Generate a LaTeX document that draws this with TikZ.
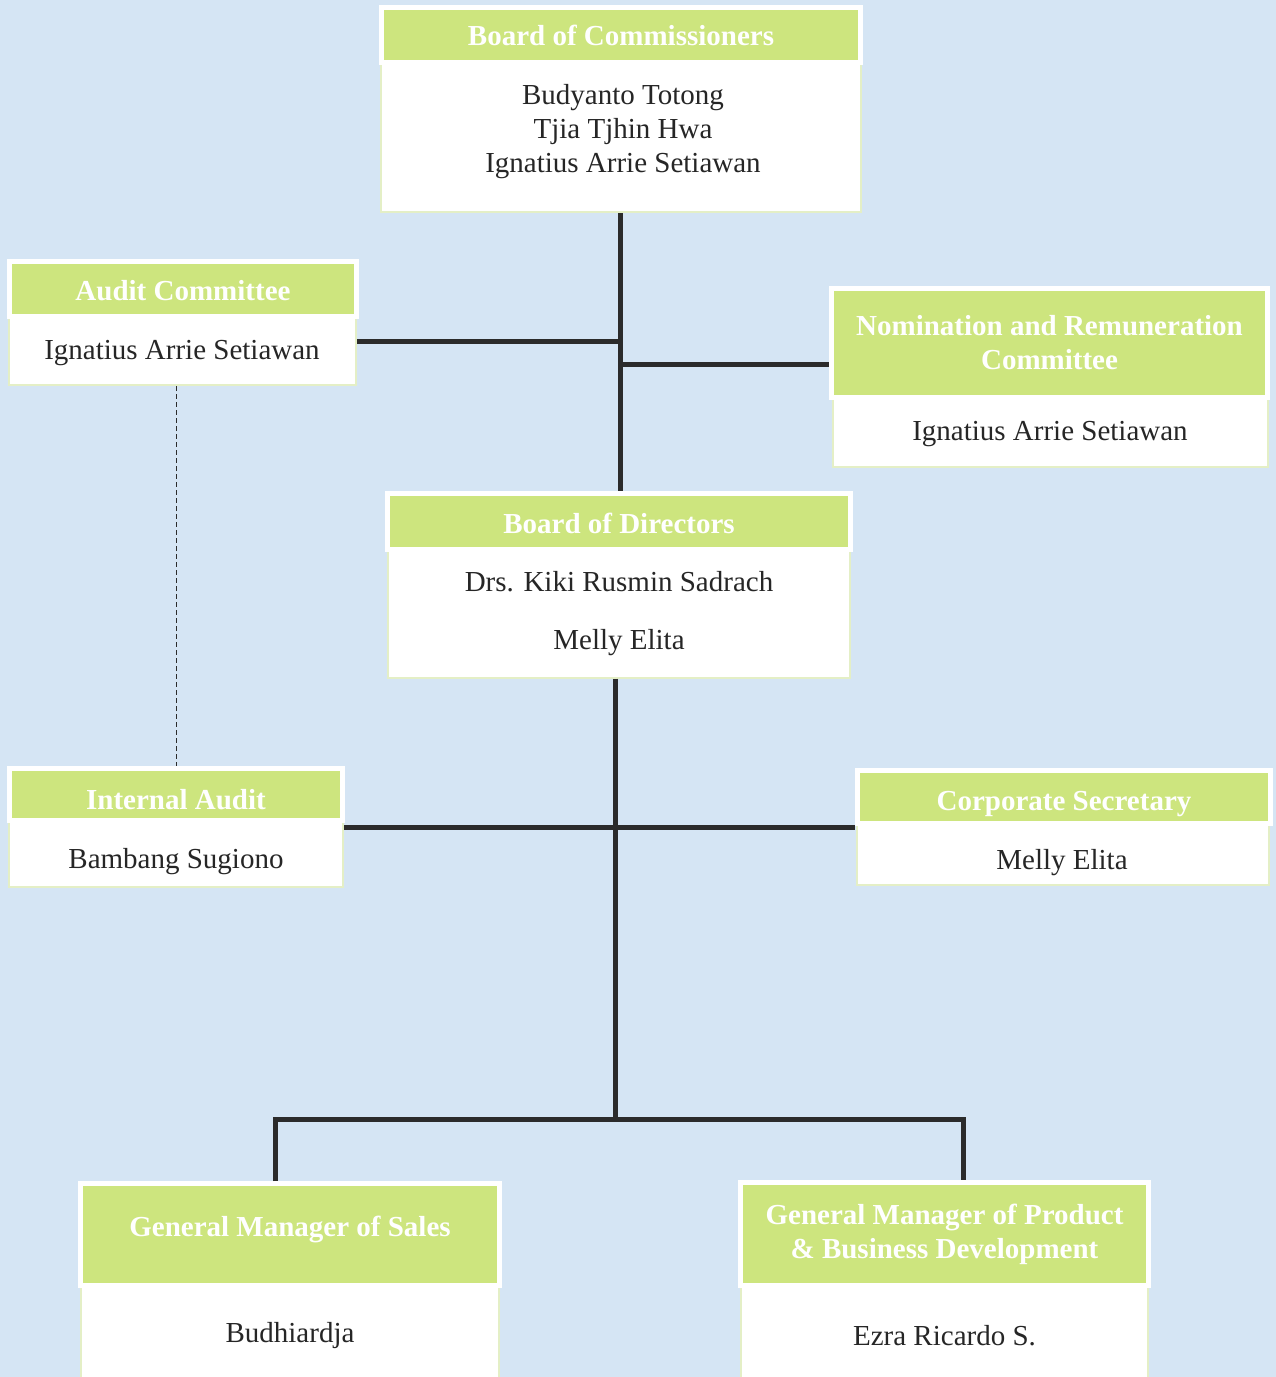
\documentclass[tikz,border=0pt]{standalone}
\usepackage{fontspec}
\setmainfont{Liberation Serif}
\usepackage{xcolor}
\usetikzlibrary{positioning}

\definecolor{bgblue}{HTML}{D5E5F4}
\definecolor{hdgreen}{HTML}{CDE57E}
\definecolor{rimgreen}{HTML}{E4EFC6}
\definecolor{linedark}{HTML}{2B2B2B}
\definecolor{namegray}{HTML}{262626}

\begin{document}
\begin{tikzpicture}[
  x=1pt, y=-1pt,
  font=\fontsize{29}{34}\selectfont,
  head/.style={
    draw=white,
    fill=hdgreen,
    line width=5pt,
    text=white,
    font=\fontsize{29}{34}\selectfont\bfseries,
    align=center,
    inner sep=0pt
  },
  onehead/.style={
    head,
    text height=27pt,
    text depth=6pt
  },
  body/.style={
    draw=rimgreen,
    fill=white,
    line width=2pt,
    inner sep=0pt
  },
  names/.style={
    text=namegray,
    align=center,
    inner sep=0pt
  },
  conn/.style={
    draw=linedark,
    line width=5pt
  },
  dashline/.style={
    draw=linedark,
    line width=1pt,
    dash pattern=on 5pt off 3pt
  }
]

% Canvas
\useasboundingbox (0,0) rectangle (1276,1377);
\clip (0,0) rectangle (1276,1377);
\fill[bgblue] (0,0) rectangle (1276,1377);

% Board of Commissioners
\node[body, minimum width=480pt, minimum height=150pt] (bocBody) at (621,137) {};
\node[onehead, minimum width=479pt, minimum height=55pt] (bocHead) at (621,35) {Board of Commissioners};
\node[names] (bocNames) at (623,132) {Budyanto Totong\\Tjia Tjhin Hwa\\Ignatius Arrie Setiawan};

% Audit Committee
\node[body, minimum width=347pt, minimum height=70pt] (auditBody) at (182.5,350) {};
\node[onehead, minimum width=347pt, minimum height=55pt, text height=29pt] (auditHead) at (183,289) {Audit Committee};
\node[names] (auditName) at (182,353) {Ignatius Arrie Setiawan};

% Nomination and Remuneration Committee
\node[body, minimum width=435pt, minimum height=72pt] (nomBody) at (1050,431) {};
\node[head, minimum width=436pt, minimum height=109pt] (nomHead) at (1049.5,343) {Nomination and Remuneration\\Committee};
\node[names] (nomName) at (1050,434) {Ignatius Arrie Setiawan};

% Board of Directors
\node[body, minimum width=462pt, minimum height=129pt] (bodBody) at (619,613) {};
\node[onehead, minimum width=463pt, minimum height=56pt, text height=30pt] (bodHead) at (619,521.5) {Board of Directors};
\node[names] (bodNames) at (619,613.5) {Drs. Kiki Rusmin Sadrach\\[24pt]Melly Elita};

% Internal Audit
\node[body, minimum width=334pt, minimum height=67pt] (iaBody) at (176,853.5) {};
\node[onehead, minimum width=333pt, minimum height=52pt, text height=36pt] (iaHead) at (176,794.5) {Internal Audit};
\node[names] (iaName) at (176,861.5) {Bambang Sugiono};

% Corporate Secretary
\node[body, minimum width=412pt, minimum height=62pt] (csBody) at (1063,854) {};
\node[onehead, minimum width=413pt, minimum height=53pt, text height=33pt] (csHead) at (1064,797) {Corporate Secretary};
\node[names] (csName) at (1062,863) {Melly Elita};

% General Managers
\node[body, minimum width=418pt, minimum height=120pt] (salesBody) at (290,1340) {};
\node[onehead, minimum width=419pt, minimum height=102pt, text depth=24pt] (salesHead) at (290,1234.5) {General Manager of Sales};
\node[names] (salesName) at (290,1336) {Budhiardja};

\node[body, minimum width=407pt, minimum height=120pt] (prodBody) at (944.5,1340) {};
\node[head, minimum width=408pt, minimum height=103pt] (prodHead) at (944.5,1234) {General Manager of Product\\\& Business Development};
\node[names] (prodName) at (944.5,1335.5) {Ezra Ricardo S.};

% Connectors
\coordinate (tAudit) at (620,341);
\coordinate (tNom) at (620,364);
\coordinate (tStaff) at (615,827);
\coordinate (bus) at (615,1119);
\coordinate (dropL) at (275,1119);
\coordinate (dropR) at (963,1119);

\draw[conn] (tAudit |- bocBody.south) -- (tAudit |- bodHead.north);
\draw[conn] (tAudit) -- (tAudit -| auditBody.east);
\draw[conn] (tNom) -- (tNom -| nomHead.west);
\draw[dashline] (iaHead.north |- auditBody.south) -- (iaHead.north);

\draw[conn] (bus |- bodBody.south) -- (bus);
\draw[conn] (tStaff -| iaBody.east) -- (tStaff -| csHead.west);
\draw[conn] (dropL |- salesHead.north) -- (dropL) -- (dropR) -- (dropR |- prodHead.north);

\end{tikzpicture}
\end{document}
